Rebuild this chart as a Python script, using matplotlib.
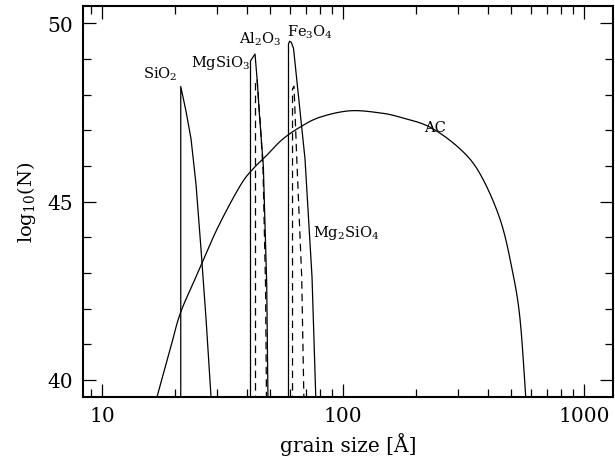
import numpy as np
import matplotlib
matplotlib.use("Agg")
import matplotlib.pyplot as plt
from matplotlib.ticker import FixedLocator, NullFormatter, LogLocator, FixedFormatter

plt.rcParams['font.family'] = ['DejaVu Serif']
plt.rcParams['mathtext.fontset'] = 'dejavuserif'

# ---- data (grain size in Angstrom, log10 N) ----
sio2_size = [21.22, 21.22, 22.31, 23.41, 24.55, 25.75, 27.02, 28.34, 28.45]
sio2_logN = [39.0, 48.23, 47.54, 46.76, 45.49, 43.67, 41.71, 39.52, 39.3]

al2o3_size = [41.32, 41.32, 43.14, 44.18, 44.82, 46.70, 48.24, 48.85]
al2o3_logN = [39.0, 48.95, 49.14, 48.30, 47.60, 46.01, 42.69, 39.3]

mgsio3_size = [43.34, 43.34, 43.97, 45.25, 46.56, 47.69, 48.15]
mgsio3_logN = [39.0, 48.38, 48.44, 47.32, 45.92, 42.69, 39.3]

fe3o4_size = [59.40, 59.40, 60.0, 61.0, 62.32, 69.55, 74.37, 77.27]
fe3o4_logN = [39.0, 49.42, 49.50, 49.47, 49.30, 46.20, 42.89, 39.3]

mg2sio4_size = [61.73, 61.73, 62.62, 64.25, 67.39, 68.89]
mg2sio4_logN = [39.0, 48.16, 48.24, 46.25, 42.89, 39.3]

ac_size = [16.7, 16.91, 19.15, 21.08, 24.32, 30.01, 37.38, 42.32, 47.47, 55.67,
           66.31, 80.28, 106.9, 142.4, 172.4, 229.6, 305.9, 370.4, 448.3,
           502.8, 542.6, 574.6]
ac_logN = [39.3, 39.52, 40.84, 41.85, 42.83, 44.23, 45.44, 45.92, 46.25, 46.73,
           47.09, 47.37, 47.55, 47.49, 47.37, 47.09, 46.48, 45.78, 44.51,
           43.11, 41.71, 39.4]

xticks = [10, 100, 1000]
xtick_labels = ['10', '100', '1000']
yticks = [40, 45, 50]


def smooth_path(xs, ys, n=12):
    """Catmull-Rom spline through the read points (log-x space) for drawing."""
    lx = np.log10(np.asarray(xs, float))
    y = np.asarray(ys, float)
    P = np.column_stack([lx, y])
    P = np.vstack([P[0], P, P[-1]])
    out = []
    for i in range(1, len(P) - 2):
        p0, p1, p2, p3 = P[i - 1], P[i], P[i + 1], P[i + 2]
        t = np.linspace(0, 1, n, endpoint=False)[:, None]
        seg = 0.5 * ((2 * p1) + (-p0 + p2) * t + (2 * p0 - 5 * p1 + 4 * p2 - p3) * t ** 2
                     + (-p0 + 3 * p1 - 3 * p2 + p3) * t ** 3)
        out.append(seg)
    out.append(P[-2][None, :])
    out = np.vstack(out)
    return 10 ** out[:, 0], out[:, 1]


W, H = 615, 460
fig = plt.figure(figsize=(W / 100, H / 100), dpi=100)
L, R, T, B = 83, 613, 7.3, 397.7
ax = fig.add_axes([L / W, 1 - B / H, (R - L) / W, (B - T) / H])

lw = 0.9
ax.plot(sio2_size, sio2_logN, color='black', lw=lw)
ax.plot(al2o3_size, al2o3_logN, color='black', lw=lw)
ax.plot(mgsio3_size, mgsio3_logN, color='black', lw=lw, dashes=(6, 4))
ax.plot(fe3o4_size, fe3o4_logN, color='black', lw=lw)
ax.plot(mg2sio4_size, mg2sio4_logN, color='black', lw=lw, dashes=(6, 4))
acx, acy = smooth_path(ac_size, ac_logN)
ax.plot(acx, acy, color='black', lw=lw)

ax.set_xscale('log')
ax.set_xlim(8.34, 1319)
ax.set_ylim(39.53, 50.48)

ax.xaxis.set_major_locator(FixedLocator(xticks))
ax.xaxis.set_major_formatter(FixedFormatter(xtick_labels))
ax.xaxis.set_minor_locator(LogLocator(base=10, subs=np.arange(2, 10)))
ax.xaxis.set_minor_formatter(NullFormatter())
ax.yaxis.set_major_locator(FixedLocator(yticks))
ax.yaxis.set_minor_locator(FixedLocator(np.arange(40, 51, 1)))

ax.tick_params(which='both', direction='in', top=True, right=True, width=0.9,
               labelsize=14.5)
ax.tick_params(which='major', length=9.5, pad=7)
ax.tick_params(which='minor', length=5.5)
for s in ax.spines.values():
    s.set_linewidth(1.5)

ax.set_xlabel('grain size [Å]', fontsize=14.5, labelpad=5)
ax.set_ylabel(r'log$_{10}$(N)', fontsize=14, labelpad=7)

fs = 10.5
ax.text(17.41, 48.61, r'SiO$_2$', fontsize=fs, ha='center', va='center')
ax.text(30.88, 48.91, r'MgSiO$_3$', fontsize=fs, ha='center', va='center')
ax.text(45.25, 49.58, r'Al$_2$O$_3$', fontsize=fs, ha='center', va='center')
ax.text(72.97, 49.79, r'Fe$_3$O$_4$', fontsize=fs, ha='center', va='center')
ax.text(102.9, 44.14, r'Mg$_2$SiO$_4$', fontsize=fs, ha='center', va='center')
ax.text(240.8, 47.09, 'AC', fontsize=fs, ha='center', va='center')

fig.savefig('out.png', dpi=100)
